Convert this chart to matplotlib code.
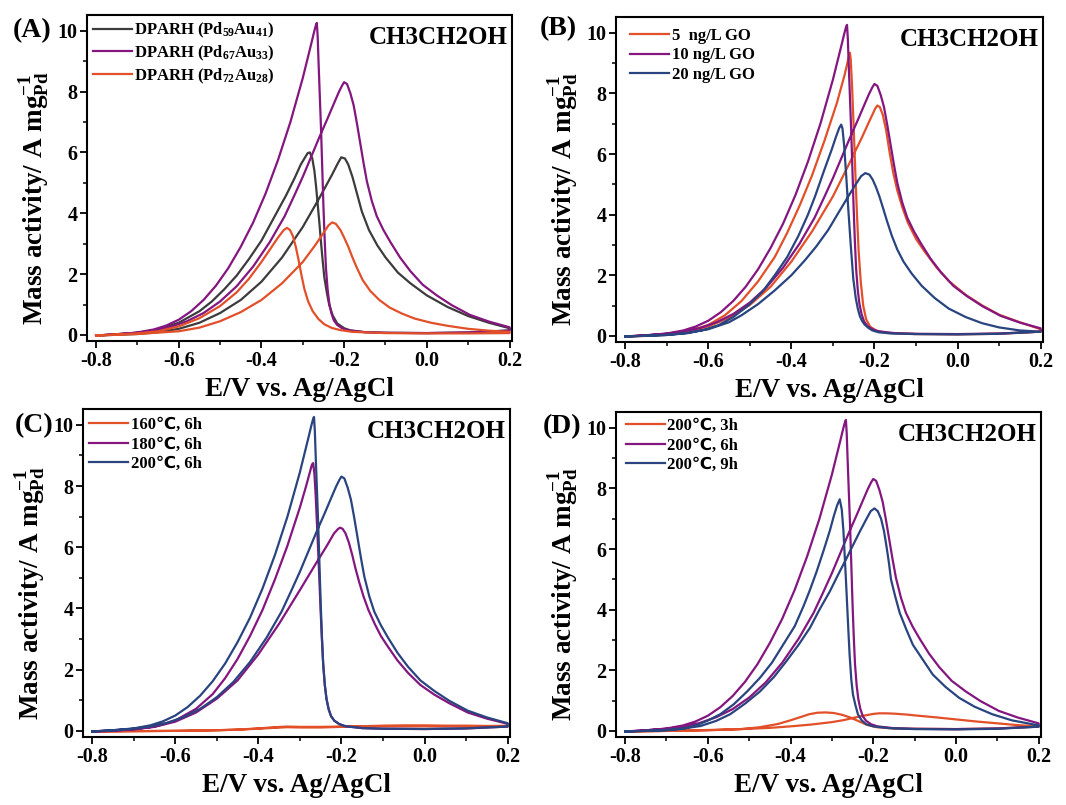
import matplotlib
matplotlib.use('Agg')
import matplotlib.pyplot as plt
from matplotlib.ticker import MultipleLocator, FixedLocator

plt.rcParams['font.family'] = ['Liberation Serif', 'DejaVu Sans', 'Noto Sans CJK SC']
plt.rcParams['font.weight'] = 'bold'
plt.rcParams['axes.unicode_minus'] = False
plt.rcParams['mathtext.fontset'] = 'custom'
plt.rcParams['mathtext.rm'] = 'Liberation Serif:bold'
plt.rcParams['mathtext.bf'] = 'Liberation Serif:bold'
plt.rcParams['mathtext.it'] = 'Liberation Serif:bold:italic'

# ---- colours
BLACK = '#3c3c3c'
PURPLE = '#84167f'
ORANGE = '#e2502a'
BLUE = '#2a4480'

# ---- Pd67Au33 / 10 ng/L GO / 200C 6h  (same sample in all four panels)
PD67_FWD_E = [-0.80, -0.75, -0.70, -0.66, -0.62, -0.58, -0.54, -0.50, -0.46, -0.42,
              -0.38, -0.344, -0.32, -0.30, -0.28, -0.26, -0.24, -0.225, -0.213, -0.205,
              -0.200, -0.193, -0.185, -0.177, -0.169, -0.161, -0.153, -0.145, -0.133, -0.121,
              -0.105, -0.088, -0.065, -0.040, -0.010, 0.024, 0.06, 0.104, 0.15, 0.20]
PD67_FWD_J = [-0.02, 0.02, 0.07, 0.14, 0.26, 0.45, 0.72, 1.1, 1.6, 2.25,
              3.05, 3.9, 4.6, 5.2, 5.85, 6.5, 7.12, 7.6, 7.98, 8.2,
              8.31, 8.25, 7.95, 7.55, 6.95, 6.30, 5.65, 5.05, 4.40, 3.90,
              3.45, 3.05, 2.55, 2.10, 1.65, 1.30, 0.98, 0.66, 0.44, 0.25]
PD67_REV_E = [0.20, 0.10, 0.00, -0.10, -0.15, -0.19, -0.205, -0.217, -0.225, -0.231,
              -0.236, -0.240, -0.244, -0.247, -0.250, -0.253, -0.256, -0.259, -0.262, -0.264,
              -0.266, -0.268, -0.272, -0.28, -0.30, -0.33, -0.36, -0.39, -0.42, -0.45,
              -0.48, -0.51, -0.54, -0.57, -0.60, -0.63, -0.66, -0.70, -0.75, -0.80]
PD67_REV_J = [0.14, 0.08, 0.06, 0.07, 0.09, 0.15, 0.22, 0.33, 0.48, 0.72,
              1.05, 1.5, 2.2, 3.1, 4.2, 5.5, 6.8, 7.9, 9.0, 9.8,
              10.26, 10.2, 10.0, 9.55, 8.45, 7.0, 5.75, 4.65, 3.7, 2.9,
              2.2, 1.62, 1.15, 0.78, 0.5, 0.31, 0.18, 0.08, 0.02, -0.02]

# ---- (A) Pd59Au41
PD59_FWD_E = [-0.80, -0.70, -0.65, -0.60, -0.55, -0.50, -0.45, -0.40, -0.35, -0.30,
              -0.26, -0.23, -0.215, -0.207, -0.198, -0.19, -0.18, -0.17, -0.157, -0.14,
              -0.12, -0.10, -0.07, -0.04, 0.00, 0.05, 0.10, 0.15, 0.20]
PD59_FWD_J = [-0.02, 0.03, 0.09, 0.2, 0.4, 0.72, 1.15, 1.75, 2.55, 3.55,
              4.5, 5.25, 5.65, 5.84, 5.8, 5.6, 5.2, 4.7, 4.05, 3.45,
              2.95, 2.55, 2.05, 1.7, 1.3, 0.92, 0.62, 0.4, 0.22]
PD59_REV_E = [0.20, 0.10, 0.00, -0.10, -0.15, -0.185, -0.20, -0.217, -0.228, -0.236,
              -0.242, -0.248, -0.252, -0.256, -0.260, -0.264, -0.268, -0.272, -0.277, -0.283,
              -0.288, -0.294, -0.305, -0.32, -0.34, -0.36, -0.38, -0.40, -0.43, -0.46,
              -0.49, -0.52, -0.55, -0.60, -0.65, -0.70, -0.80]
PD59_REV_J = [0.15, 0.08, 0.06, 0.07, 0.09, 0.15, 0.22, 0.38, 0.65, 0.98,
              1.4, 1.9, 2.45, 3.05, 3.7, 4.3, 4.9, 5.4, 5.8, 6.0,
              5.98, 5.85, 5.6, 5.15, 4.6, 4.1, 3.6, 3.1, 2.5, 1.95,
              1.5, 1.1, 0.78, 0.4, 0.18, 0.07, -0.02]

# ---- (A) Pd72Au28
PD72_FWD_E = [-0.80, -0.70, -0.60, -0.55, -0.50, -0.45, -0.40, -0.35, -0.30, -0.27,
              -0.25, -0.238, -0.229, -0.22, -0.209, -0.20, -0.19, -0.18, -0.169, -0.155,
              -0.137, -0.115, -0.09, -0.06, -0.03, 0.01, 0.05, 0.10, 0.15, 0.20]
PD72_FWD_J = [-0.02, 0.03, 0.12, 0.24, 0.45, 0.75, 1.15, 1.7, 2.4, 2.95,
              3.35, 3.6, 3.7, 3.65, 3.45, 3.2, 2.9, 2.55, 2.2, 1.8,
              1.45, 1.15, 0.9, 0.7, 0.54, 0.4, 0.3, 0.2, 0.14, 0.1]
PD72_REV_E = [0.20, 0.10, 0.00, -0.10, -0.18, -0.21, -0.23, -0.248, -0.262, -0.276,
              -0.287, -0.296, -0.303, -0.31, -0.317, -0.324, -0.331, -0.338, -0.346, -0.36,
              -0.38, -0.40, -0.43, -0.46, -0.50, -0.55, -0.60, -0.65, -0.70, -0.80]
PD72_REV_J = [0.06, 0.05, 0.05, 0.06, 0.1, 0.16, 0.23, 0.35, 0.52, 0.78,
              1.1, 1.5, 1.95, 2.45, 2.9, 3.25, 3.45, 3.52, 3.45, 3.2,
              2.8, 2.4, 1.85, 1.4, 0.95, 0.55, 0.28, 0.12, 0.05, -0.02]

# ---- (B) 5 ng/L GO
GO5_FWD_E = [-0.80, -0.75, -0.70, -0.65, -0.60, -0.55, -0.50, -0.45, -0.40, -0.35,
             -0.30, -0.26, -0.23, -0.21, -0.198, -0.193, -0.187, -0.18, -0.172, -0.164,
             -0.155, -0.145, -0.133, -0.12, -0.10, -0.08, -0.05, -0.02, 0.02, 0.06,
             0.10, 0.15, 0.20]
GO5_FWD_J = [-0.02, 0.0, 0.05, 0.14, 0.31, 0.6, 1.02, 1.62, 2.45, 3.45,
             4.6, 5.7, 6.55, 7.15, 7.5, 7.6, 7.55, 7.3, 6.8, 6.1,
             5.4, 4.8, 4.25, 3.75, 3.2, 2.8, 2.25, 1.8, 1.35, 1.0,
             0.7, 0.45, 0.22]
GO5_REV_E = [0.20, 0.10, 0.00, -0.10, -0.17, -0.195, -0.21, -0.22, -0.227, -0.233,
             -0.238, -0.242, -0.246, -0.250, -0.254, -0.257, -0.259, -0.262, -0.266, -0.272,
             -0.29, -0.32, -0.35, -0.38, -0.41, -0.44, -0.48, -0.52, -0.56, -0.60,
             -0.65, -0.70, -0.80]
GO5_REV_J = [0.14, 0.07, 0.05, 0.06, 0.1, 0.17, 0.3, 0.55, 1.0, 1.8,
             2.8, 4.0, 5.4, 6.9, 8.3, 9.1, 9.34, 9.2, 8.95, 8.6,
             7.7, 6.45, 5.3, 4.3, 3.4, 2.6, 1.8, 1.15, 0.68, 0.36,
             0.14, 0.05, -0.02]

# ---- (B) 20 ng/L GO
GO20_FWD_E = [-0.80, -0.70, -0.65, -0.60, -0.55, -0.52, -0.48, -0.44, -0.40, -0.367,
              -0.34, -0.311, -0.285, -0.263, -0.245, -0.232, -0.222, -0.212, -0.204, -0.196,
              -0.188, -0.18, -0.17, -0.158, -0.145, -0.13, -0.11, -0.086, -0.055, -0.021,
              0.02, 0.059, 0.10, 0.15, 0.20]
GO20_FWD_J = [-0.02, 0.03, 0.1, 0.22, 0.45, 0.68, 1.05, 1.5, 2.0, 2.5,
              2.95, 3.5, 4.1, 4.6, 5.0, 5.27, 5.37, 5.32, 5.15, 4.9,
              4.6, 4.25, 3.8, 3.3, 2.85, 2.45, 2.05, 1.65, 1.25, 0.9,
              0.62, 0.42, 0.28, 0.18, 0.14]
GO20_REV_E = [0.20, 0.10, 0.00, -0.10, -0.16, -0.19, -0.205, -0.215, -0.224, -0.23,
              -0.235, -0.240, -0.245, -0.251, -0.257, -0.263, -0.268, -0.273, -0.277, -0.280,
              -0.285, -0.293, -0.303, -0.32, -0.343, -0.36, -0.383, -0.41, -0.44, -0.47,
              -0.504, -0.54, -0.576, -0.61, -0.65, -0.70, -0.80]
GO20_REV_J = [0.14, 0.07, 0.05, 0.06, 0.08, 0.12, 0.18, 0.27, 0.38, 0.5,
              0.65, 0.9, 1.25, 1.9, 3.0, 4.2, 5.3, 6.3, 6.85, 6.97,
              6.85, 6.55, 6.14, 5.5, 4.6, 4.0, 3.3, 2.6, 2.0, 1.45,
              1.0, 0.62, 0.35, 0.2, 0.09, 0.03, -0.02]

# ---- (C) 160C 6h
T160_FWD_E = [-0.80, -0.70, -0.60, -0.50, -0.45, -0.40, -0.36, -0.33, -0.30, -0.25,
              -0.20, -0.15, -0.10, -0.05, 0.00, 0.05, 0.10, 0.15, 0.20]
T160_FWD_J = [-0.02, -0.01, 0.0, 0.02, 0.04, 0.07, 0.1, 0.12, 0.11, 0.11,
              0.13, 0.15, 0.17, 0.18, 0.18, 0.17, 0.17, 0.16, 0.16]
T160_REV_E = [0.20, 0.10, 0.00, -0.10, -0.20, -0.25, -0.30, -0.33, -0.36, -0.40,
              -0.45, -0.50, -0.60, -0.70, -0.80]
T160_REV_J = [0.16, 0.15, 0.15, 0.15, 0.14, 0.13, 0.13, 0.14, 0.12, 0.08,
              0.04, 0.02, 0.0, -0.01, -0.02]

# ---- (C) 180C 6h
T180_FWD_E = [-0.80, -0.75, -0.70, -0.65, -0.60, -0.55, -0.50, -0.45, -0.40, -0.35,
              -0.30, -0.26, -0.235, -0.218, -0.208, -0.203, -0.197, -0.19, -0.182, -0.174,
              -0.166, -0.157, -0.147, -0.135, -0.12, -0.105, -0.088, -0.065, -0.04, -0.01,
              0.024, 0.06, 0.104, 0.15, 0.20]
T180_FWD_J = [-0.02, 0.0, 0.05, 0.13, 0.3, 0.6, 1.05, 1.65, 2.5, 3.5,
              4.6, 5.5, 6.05, 6.45, 6.6, 6.64, 6.6, 6.45, 6.15, 5.75,
              5.3, 4.85, 4.4, 3.95, 3.5, 3.1, 2.75, 2.3, 1.9, 1.5,
              1.18, 0.9, 0.6, 0.4, 0.23]
T180_REV_E = [0.20, 0.10, 0.00, -0.10, -0.15, -0.19, -0.205, -0.217, -0.225, -0.231,
              -0.236, -0.240, -0.244, -0.247, -0.250, -0.253, -0.256, -0.259, -0.262, -0.265,
              -0.268, -0.271, -0.276, -0.285, -0.30, -0.33, -0.36, -0.39, -0.42, -0.45,
              -0.48, -0.51, -0.55, -0.60, -0.65, -0.70, -0.80]
T180_REV_J = [0.14, 0.08, 0.06, 0.07, 0.09, 0.15, 0.22, 0.33, 0.48, 0.72,
              1.05, 1.5, 2.2, 3.0, 3.9, 4.9, 5.9, 6.8, 7.7, 8.4,
              8.75, 8.7, 8.45, 8.0, 7.3, 6.05, 4.95, 3.95, 3.1, 2.35,
              1.72, 1.2, 0.72, 0.34, 0.14, 0.05, -0.02]

# ---- (D) 200C 9h
H9_FWD_E = [-0.80, -0.70, -0.66, -0.618, -0.58, -0.546, -0.51, -0.474, -0.44, -0.41,
            -0.38, -0.353, -0.33, -0.305, -0.285, -0.265, -0.248, -0.233, -0.218, -0.206,
            -0.197, -0.189, -0.181, -0.174, -0.168, -0.162, -0.157, -0.147, -0.136, -0.12,
            -0.104, -0.08, -0.056, -0.025, 0.008, 0.045, 0.088, 0.135, 0.185, 0.20]
H9_FWD_J = [-0.02, 0.03, 0.08, 0.16, 0.33, 0.55, 0.9, 1.3, 1.78, 2.3,
            2.85, 3.4, 4.0, 4.6, 5.15, 5.68, 6.15, 6.56, 6.95, 7.25,
            7.34, 7.25, 7.0, 6.6, 6.1, 5.55, 5.0, 4.45, 3.9, 3.35,
            2.84, 2.35, 1.86, 1.45, 1.09, 0.8, 0.55, 0.35, 0.22, 0.19]
H9_REV_E = [0.20, 0.10, 0.00, -0.10, -0.16, -0.20, -0.217, -0.228, -0.237, -0.243,
            -0.249, -0.253, -0.257, -0.260, -0.263, -0.266, -0.269, -0.272, -0.276, -0.281,
            -0.287, -0.295, -0.305, -0.32, -0.337, -0.353, -0.369, -0.39, -0.418, -0.445,
            -0.474, -0.505, -0.538, -0.57, -0.602, -0.63, -0.66, -0.70, -0.80]
H9_REV_J = [0.14, 0.07, 0.05, 0.06, 0.09, 0.15, 0.22, 0.35, 0.55, 0.85,
            1.2, 1.7, 2.5, 3.3, 4.15, 5.0, 5.8, 6.6, 7.3, 7.64,
            7.45, 7.1, 6.6, 5.95, 5.25, 4.65, 4.1, 3.45, 2.84, 2.25,
            1.75, 1.3, 0.87, 0.55, 0.33, 0.18, 0.07, 0.02, -0.02]

# ---- (D) 200C 3h
H3_FWD_E = [-0.80, -0.70, -0.60, -0.54, -0.50, -0.45, -0.40, -0.35, -0.30, -0.27,
            -0.245, -0.22, -0.20, -0.186, -0.17, -0.15, -0.12, -0.09, -0.05, 0.00,
            0.05, 0.10, 0.15, 0.20]
H3_FWD_J = [-0.02, 0.0, 0.03, 0.05, 0.07, 0.1, 0.15, 0.21, 0.29, 0.36,
            0.44, 0.51, 0.56, 0.58, 0.58, 0.57, 0.54, 0.5, 0.45, 0.38,
            0.31, 0.25, 0.19, 0.15]
H3_REV_E = [0.20, 0.10, 0.00, -0.10, -0.15, -0.19, -0.215, -0.235, -0.255, -0.275,
            -0.295, -0.315, -0.335, -0.355, -0.375, -0.40, -0.43, -0.475, -0.52, -0.60,
            -0.70, -0.80]
H3_REV_J = [0.15, 0.08, 0.06, 0.07, 0.08, 0.12, 0.2, 0.32, 0.44, 0.53,
            0.59, 0.61, 0.6, 0.55, 0.46, 0.35, 0.23, 0.12, 0.06, 0.02,
            0.0, -0.02]

X_TICKS = [-0.8, -0.6, -0.4, -0.2, 0.0, 0.2]
X_TICK_LABELS = ['-0.8', '-0.6', '-0.4', '-0.2', '0.0', '0.2']
Y_TICKS = [0, 2, 4, 6, 8, 10]

LABELS_A = ['DPARH (Pd$_{59}$Au$_{41}$)', 'DPARH (Pd$_{67}$Au$_{33}$)', 'DPARH (Pd$_{72}$Au$_{28}$)']
LABELS_B = ['5  ng/L GO', '10 ng/L GO', '20 ng/L GO']
LABELS_C = ['160\u2103, 6h', '180\u2103, 6h', '200\u2103, 6h']
LABELS_D = ['200\u2103, 3h', '200\u2103, 6h', '200\u2103, 9h']

fig = plt.figure(figsize=(10.66, 8.05), dpi=100)

ax_a = fig.add_axes([0.0816, 0.5764, 0.3987, 0.4050])
ax_b = fig.add_axes([0.5779, 0.5752, 0.4006, 0.4037])
ax_c = fig.add_axes([0.0779, 0.0845, 0.4006, 0.4075])
ax_d = fig.add_axes([0.5779, 0.0845, 0.3987, 0.4037])


def draw_panel(ax, curves, tag, tag_x, tag_y, leg_dx, leg_dy):
    for fe, fj, re_, rj, col, lab in curves:
        ax.plot(fe + re_, fj + rj, color=col, lw=1.6, label=lab)

    ax.set_xlim(-0.822, 0.206)
    ax.set_ylim(-0.2, 10.52)
    ax.xaxis.set_major_locator(FixedLocator(X_TICKS))
    ax.set_xticklabels(X_TICK_LABELS)
    ax.xaxis.set_minor_locator(MultipleLocator(0.1))
    ax.yaxis.set_major_locator(FixedLocator(Y_TICKS))
    ax.yaxis.set_minor_locator(MultipleLocator(1))
    ax.tick_params(which='major', direction='out', length=5, width=1.3,
                   labelsize=14.5, pad=2)
    ax.tick_params(which='minor', direction='out', length=3, width=1.1)
    for lab in ax.get_xticklabels() + ax.get_yticklabels():
        lab.set_fontweight('bold')
    for sp in ax.spines.values():
        sp.set_linewidth(1.5)

    ax.set_xlabel('E/V vs. Ag/AgCl', fontsize=19.5, fontweight='bold')
    ax.xaxis.set_label_coords(0.5, -0.11)
    ax.set_ylabel('Mass activity/ A mg$^{-1}_{\\mathrm{Pd}}$', fontsize=19.5,
                  fontweight='bold')
    ax.yaxis.set_label_coords(-0.083, 0.44)

    ax.text(0.99, 0.91, 'CH3CH2OH', transform=ax.transAxes, ha='right',
            va='baseline', fontsize=18, fontweight='bold')
    ax.text(tag_x, tag_y, tag, transform=ax.transAxes, ha='left',
            va='baseline', fontsize=20, fontweight='bold')

    ax.legend(loc='upper left', bbox_to_anchor=(leg_dx, 1 + leg_dy),
              frameon=False, handlelength=2.35,
              handletextpad=0.15, labelspacing=0.22, borderpad=0.35,
              borderaxespad=0.0, prop={'weight': 'bold', 'size': 12})


draw_panel(ax_a,
           [(PD59_FWD_E, PD59_FWD_J, PD59_REV_E, PD59_REV_J, BLACK, LABELS_A[0]),
            (PD67_FWD_E, PD67_FWD_J, PD67_REV_E, PD67_REV_J, PURPLE, LABELS_A[1]),
            (PD72_FWD_E, PD72_FWD_J, PD72_REV_E, PD72_REV_J, ORANGE, LABELS_A[2])],
           '(A)', -0.174, 0.933, 0.0, 0.0)

draw_panel(ax_b,
           [(GO5_FWD_E, GO5_FWD_J, GO5_REV_E, GO5_REV_J, ORANGE, LABELS_B[0]),
            (PD67_FWD_E, PD67_FWD_J, PD67_REV_E, PD67_REV_J, PURPLE, LABELS_B[1]),
            (GO20_FWD_E, GO20_FWD_J, GO20_REV_E, GO20_REV_J, BLUE, LABELS_B[2])],
           '(B)', -0.178, 0.945, 0.019, -0.015)

draw_panel(ax_c,
           [(T160_FWD_E, T160_FWD_J, T160_REV_E, T160_REV_J, ORANGE, LABELS_C[0]),
            (T180_FWD_E, T180_FWD_J, T180_REV_E, T180_REV_J, PURPLE, LABELS_C[1]),
            (PD67_FWD_E, PD67_FWD_J, PD67_REV_E, PD67_REV_J, BLUE, LABELS_C[2])],
           '(C)', -0.159, 0.93, 0.0, -0.006)

draw_panel(ax_d,
           [(H3_FWD_E, H3_FWD_J, H3_REV_E, H3_REV_J, ORANGE, LABELS_D[0]),
            (PD67_FWD_E, PD67_FWD_J, PD67_REV_E, PD67_REV_J, PURPLE, LABELS_D[1]),
            (H9_FWD_E, H9_FWD_J, H9_REV_E, H9_REV_J, BLUE, LABELS_D[2])],
           '(D)', -0.172, 0.935, 0.009, 0.0)

fig.savefig('out.png', dpi=100)
